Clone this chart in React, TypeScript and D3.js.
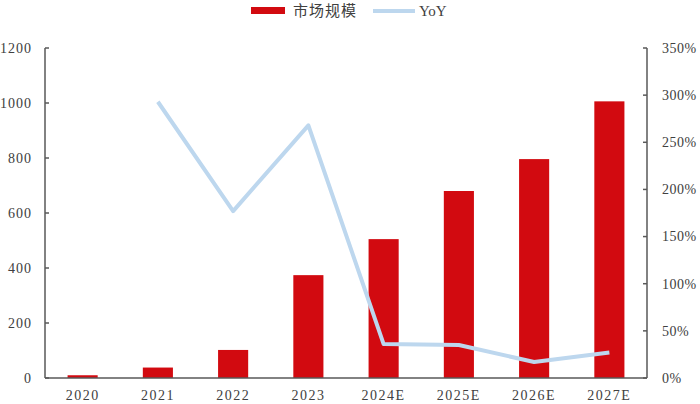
import React from "react";
import * as d3 from "d3";

const categories = ["2020", "2021", "2022", "2023", "2024E", "2025E", "2026E", "2027E"];
const marketSize = [10, 38, 102, 374, 505, 680, 796, 1006];
const yoy: (number | null)[] = [null, 2.93, 1.77, 2.68, 0.36, 0.35, 0.17, 0.27];
const leftTicks = [0, 200, 400, 600, 800, 1000, 1200];
const rightTicks = [0, 0.5, 1, 1.5, 2, 2.5, 3, 3.5];

const W = 700;
const H = 404;
const M = { left: 45, right: 53, top: 48, bottom: 26 };

export default function App() {
  const x = d3
    .scaleBand<string>()
    .domain(categories)
    .range([M.left, W - M.right])
    .paddingInner(0.6)
    .paddingOuter(0.3);
  const yL = d3.scaleLinear().domain([0, 1200]).range([H - M.bottom, M.top]);
  const yR = d3.scaleLinear().domain([0, 3.5]).range([H - M.bottom, M.top]);
  const line = d3
    .line<[string, number | null]>()
    .defined((d) => d[1] !== null)
    .x((d) => (x(d[0]) as number) + x.bandwidth() / 2)
    .y((d) => yR(d[1] as number));
  const pts = categories.map((c, i) => [c, yoy[i]] as [string, number | null]);
  const font = "'Liberation Serif', 'Times New Roman', serif";
  const textColor = "#404040";
  const axisColor = "#595959";
  const x0 = M.left;
  const x1 = W - M.right;
  const yb = H - M.bottom;

  return (
    <svg width={W} height={H} style={{ position: "absolute", left: 0, top: 0 }}>
      <rect width={W} height={H} fill="#fff" />
      {/* bars */}
      {categories.map((c, i) => (
        <rect
          key={c}
          x={x(c)}
          y={yL(marketSize[i])}
          width={x.bandwidth()}
          height={yb - yL(marketSize[i])}
          fill="#d20a10"
        />
      ))}
      {/* line */}
      <path
        d={line(pts) || ""}
        fill="none"
        stroke="#bdd7ee"
        strokeWidth={4}
        strokeLinejoin="round"
      />
      {/* axes */}
      <line x1={x0} x2={x0} y1={M.top} y2={yb} stroke={axisColor} strokeWidth={1.5} />
      <line x1={x1} x2={x1} y1={M.top} y2={yb} stroke={axisColor} strokeWidth={1.5} />
      <line x1={x0} x2={x1} y1={yb} y2={yb} stroke={axisColor} strokeWidth={1.5} />
      {leftTicks.map((t) => (
        <g key={"l" + t}>
          <line x1={x0} x2={x0 + 4} y1={yL(t)} y2={yL(t)} stroke={axisColor} strokeWidth={1.5} />
          <text
            x={32}
            y={yL(t)}
            dy="0.35em"
            textAnchor="end"
            fontFamily={font}
            fontSize={14}
            letterSpacing={1}
            fill={textColor}
          >
            {t}
          </text>
        </g>
      ))}
      {rightTicks.map((t) => (
        <g key={"r" + t}>
          <line x1={x1 - 4} x2={x1} y1={yR(t)} y2={yR(t)} stroke={axisColor} strokeWidth={1.5} />
          <text
            x={662}
            y={yR(t)}
            dy="0.35em"
            textAnchor="start"
            fontFamily={font}
            fontSize={14}
            letterSpacing={0.5}
            fill={textColor}
          >
            {`${Math.round(t * 100)}%`}
          </text>
        </g>
      ))}
      {categories.map((c) => (
        <text
          key={"x" + c}
          x={(x(c) as number) + x.bandwidth() / 2}
          y={400}
          textAnchor="middle"
          fontFamily={font}
          fontSize={14}
          letterSpacing={1.5}
          fill={textColor}
        >
          {c}
        </text>
      ))}
      {/* legend */}
      <rect x={251} y={7} width={34} height={7} fill="#d20a10" />
      <text x={293} y={16} fontFamily="'Noto Sans CJK SC', sans-serif" fontSize={15} letterSpacing={1} fill={textColor}>
        市场规模
      </text>
      <line x1={373} x2={415} y1={11} y2={11} stroke="#bdd7ee" strokeWidth={4} />
      <text x={419} y={16} fontFamily={font} fontSize={15} fill={textColor}>
        YoY
      </text>
    </svg>
  );
}
